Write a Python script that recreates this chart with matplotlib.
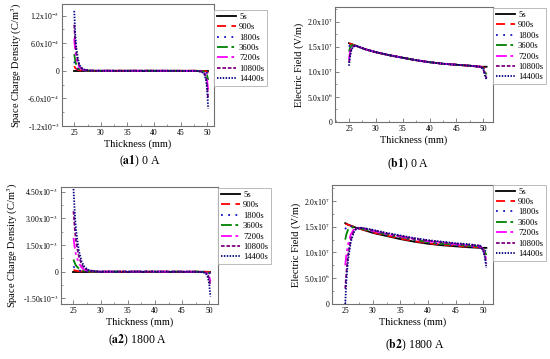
import matplotlib
matplotlib.use("Agg")
import matplotlib.pyplot as plt
from matplotlib.ticker import MultipleLocator, AutoMinorLocator

plt.rcParams['font.family'] = ['Liberation Serif', 'DejaVu Serif']
plt.rcParams['mathtext.fontset'] = 'stix'

# ---------------- data ----------------
times = ["5s", "900s", "1800s", "3600s", "7200s", "10800s", "14400s"]

# (a1) space charge density, 0 A  (unit 1e-3 C/m^3)
x_a1 = [25.0, 25.2, 25.4, 25.7, 26.0, 26.5, 27.0, 28.0, 30.0, 40.0, 48.0, 49.0, 49.5, 49.8, 50.0, 50.2]
a1_5s    = [0.0, 0.0, 0.0, 0.0, 0.0, 0.0, 0.0, 0.0, 0.0, 0.0, 0.0, 0.0, 0.0, 0.0, 0.0, 0.0]
a1_900s  = [0.10, 0.06, 0.04, 0.02, 0.01, 0.004, 0.001, 0.0, 0.0, 0.0, 0.0, -0.002, -0.005, -0.012, -0.025, -0.05]
a1_1800s = [0.20, 0.12, 0.08, 0.04, 0.02, 0.008, 0.003, 0.0, 0.0, 0.0, 0.0, -0.003, -0.01, -0.025, -0.05, -0.10]
a1_3600s = [0.36, 0.21, 0.13, 0.07, 0.035, 0.014, 0.005, 0.001, 0.0, 0.0, -0.001, -0.006, -0.02, -0.05, -0.10, -0.20]
a1_7200s = [0.70, 0.42, 0.27, 0.14, 0.07, 0.03, 0.01, 0.002, 0.0, 0.0, -0.002, -0.012, -0.04, -0.10, -0.20, -0.42]
a1_10800s = [1.00, 0.60, 0.38, 0.20, 0.10, 0.04, 0.015, 0.003, 0.0, 0.0, -0.003, -0.018, -0.06, -0.15, -0.30, -0.62]
a1_14400s = [1.30, 0.78, 0.49, 0.26, 0.12, 0.05, 0.02, 0.004, 0.0, 0.0, -0.004, -0.025, -0.08, -0.20, -0.40, -0.82]

# (a2) space charge density, 1800 A  (unit 1e-3 C/m^3)
x_a2 = [25.0, 25.2, 25.4, 25.7, 26.0, 26.5, 27.0, 27.5, 28.0, 29.0, 30.0, 40.0, 48.0, 49.0, 49.5, 49.8, 50.0, 50.2]
a2_5s    = [0.0] * 18
a2_900s  = [0.10, 0.075, 0.055, 0.04, 0.025, 0.012, 0.006, 0.003, 0.001, 0.0, 0.0, 0.0, 0.0, -0.002, -0.006, -0.015, -0.03, -0.06]
a2_1800s = [0.30, 0.22, 0.16, 0.11, 0.075, 0.036, 0.018, 0.009, 0.004, 0.001, 0.0, 0.0, -0.001, -0.005, -0.015, -0.035, -0.07, -0.13]
a2_3600s = [0.68, 0.51, 0.37, 0.26, 0.17, 0.08, 0.04, 0.02, 0.01, 0.003, 0.0, 0.0, -0.002, -0.01, -0.03, -0.07, -0.13, -0.25]
a2_7200s = [1.90, 1.42, 1.04, 0.72, 0.47, 0.23, 0.11, 0.06, 0.03, 0.008, 0.0, 0.0, -0.004, -0.02, -0.06, -0.15, -0.28, -0.55]
a2_10800s = [3.40, 2.55, 1.87, 1.29, 0.85, 0.41, 0.20, 0.10, 0.05, 0.014, 0.0, 0.0, -0.006, -0.03, -0.09, -0.22, -0.42, -0.80]
a2_14400s = [4.65, 3.49, 2.56, 1.77, 1.16, 0.56, 0.28, 0.14, 0.07, 0.02, 0.0, 0.0, -0.01, -0.05, -0.16, -0.40, -0.75, -1.40]

# (b1)/(b2) electric field (unit 1e7 V/m)
x_b = [25.0, 25.2, 25.5, 26.0, 26.5, 27.0, 28.0, 30.0, 32.5, 35.0, 37.5, 40.0, 42.5, 45.0, 47.5, 49.5, 50.0, 50.3, 50.6]
b1_5s    = [1.57, 1.56, 1.55, 1.53, 1.51, 1.49, 1.45, 1.39, 1.33, 1.28, 1.23, 1.19, 1.16, 1.14, 1.12, 1.10, 1.10, 1.10, 1.10]
b1_900s  = [1.56, 1.56, 1.55, 1.53, 1.51, 1.49, 1.45, 1.39, 1.33, 1.28, 1.23, 1.19, 1.16, 1.14, 1.12, 1.10, 1.09, 1.07, 1.05]
b1_1800s = [1.50, 1.53, 1.54, 1.53, 1.51, 1.49, 1.45, 1.39, 1.33, 1.28, 1.23, 1.19, 1.16, 1.14, 1.12, 1.10, 1.08, 1.03, 0.98]
b1_3600s = [1.40, 1.48, 1.53, 1.53, 1.51, 1.49, 1.45, 1.39, 1.33, 1.28, 1.23, 1.19, 1.16, 1.14, 1.12, 1.10, 1.07, 1.00, 0.95]
b1_7200s = [1.25, 1.40, 1.50, 1.52, 1.51, 1.49, 1.45, 1.39, 1.33, 1.28, 1.23, 1.19, 1.16, 1.14, 1.12, 1.10, 1.06, 0.97, 0.90]
b1_10800s = [1.18, 1.35, 1.48, 1.52, 1.51, 1.49, 1.45, 1.39, 1.33, 1.28, 1.23, 1.19, 1.16, 1.14, 1.12, 1.10, 1.05, 0.95, 0.87]
b1_14400s = [1.12, 1.30, 1.46, 1.51, 1.51, 1.49, 1.45, 1.39, 1.33, 1.28, 1.23, 1.19, 1.16, 1.14, 1.12, 1.10, 1.05, 0.93, 0.84]

b2_5s    = [1.57, 1.56, 1.54, 1.52, 1.50, 1.48, 1.45, 1.38, 1.32, 1.26, 1.21, 1.17, 1.14, 1.12, 1.10, 1.09, 1.09, 1.09, 1.09]
b2_900s  = [1.55, 1.55, 1.54, 1.52, 1.50, 1.48, 1.45, 1.39, 1.33, 1.27, 1.22, 1.18, 1.15, 1.13, 1.11, 1.10, 1.09, 1.08, 1.06]
b2_1800s = [1.45, 1.50, 1.52, 1.51, 1.50, 1.49, 1.46, 1.40, 1.34, 1.29, 1.24, 1.19, 1.16, 1.14, 1.12, 1.10, 1.08, 1.05, 1.00]
b2_3600s = [1.25, 1.35, 1.44, 1.48, 1.49, 1.48, 1.46, 1.41, 1.35, 1.30, 1.25, 1.20, 1.17, 1.15, 1.13, 1.11, 1.07, 1.02, 0.95]
b2_7200s = [0.75, 0.95, 1.15, 1.35, 1.44, 1.47, 1.47, 1.42, 1.36, 1.31, 1.26, 1.22, 1.19, 1.16, 1.14, 1.12, 1.06, 0.98, 0.85]
b2_10800s = [0.30, 0.60, 0.95, 1.25, 1.40, 1.47, 1.48, 1.43, 1.37, 1.32, 1.27, 1.23, 1.20, 1.17, 1.15, 1.13, 1.05, 0.95, 0.78]
b2_14400s = [0.00, 0.45, 0.85, 1.20, 1.38, 1.46, 1.48, 1.44, 1.38, 1.33, 1.28, 1.24, 1.21, 1.18, 1.16, 1.13, 1.04, 0.92, 0.70]

a1_series = [a1_5s, a1_900s, a1_1800s, a1_3600s, a1_7200s, a1_10800s, a1_14400s]
a2_series = [a2_5s, a2_900s, a2_1800s, a2_3600s, a2_7200s, a2_10800s, a2_14400s]
b1_series = [b1_5s, b1_900s, b1_1800s, b1_3600s, b1_7200s, b1_10800s, b1_14400s]
b2_series = [b2_5s, b2_900s, b2_1800s, b2_3600s, b2_7200s, b2_10800s, b2_14400s]

# tick labels
a1_yticks = [-1.2e-3, -6.0e-4, 0.0, 6.0e-4, 1.2e-3]
a1_ylabels = [r"-1.2x10$^{-3}$", r"-6.0x10$^{-4}$", "0", r"6.0x10$^{-4}$", r"1.2x10$^{-3}$"]
a2_yticks = [-1.5e-3, 0.0, 1.5e-3, 3.0e-3, 4.5e-3]
a2_ylabels = [r"-1.50x10$^{-3}$", "0", r"1.50x10$^{-3}$", r"3.00x10$^{-3}$", r"4.50x10$^{-3}$"]
b_yticks = [0.0, 5.0e6, 1.0e7, 1.5e7, 2.0e7]
b_ylabels = ["0", r"5.0x10$^{6}$", r"1.0x10$^{7}$", r"1.5x10$^{7}$", r"2.0x10$^{7}$"]
x_ticks = [25, 30, 35, 40, 45, 50]

# ---------------- style ----------------
colors = ["#000000", "#ff0000", "#1010c8", "#008000", "#ff00ff", "#800080", "#000080"]
styles = ["-", (0, (5, 3)), (0, (1, 3)), (0, (6, 2, 1.5, 2)), (0, (6, 2, 1.5, 2, 1.5, 2)), (0, (2, 1)), (0, (0.8, 0.8))]
frame_col = "#707070"

fig = plt.figure(figsize=(5.5, 3.59), dpi=100)

def px(l, t, r, b):
    W, H = 550.0, 359.0
    return [l / W, 1 - b / H, (r - l) / W, (b - t) / H]

def setup(ax, xs, series, scale, yticks, ylabels, ylim, xlim, ylabel, leg_top):
    for s, c, ls, lab in zip(series, colors, styles, times):
        ax.plot(xs, [v * scale for v in s], color=c, linestyle=ls, lw=1.3, label=lab)
    ax.set_xlim(*xlim)
    ax.set_ylim(*ylim)
    ax.set_xticks(x_ticks)
    ax.set_xticklabels([str(t) for t in x_ticks])
    ax.xaxis.set_minor_locator(MultipleLocator(2.5))
    ax.set_yticks(yticks)
    ax.set_yticklabels(ylabels)
    ax.yaxis.set_minor_locator(AutoMinorLocator(2))
    ax.tick_params(which='both', direction='in', top=False, right=False,
                   labelsize=5.5, color=frame_col, pad=2)
    ax.tick_params(which='major', length=3, width=0.6)
    ax.tick_params(which='minor', length=1.5, width=0.5)
    for sp in ax.spines.values():
        sp.set_color(frame_col)
        sp.set_linewidth(0.8)
    ax.set_xlabel("Thickness (mm)", fontsize=7.5, labelpad=2)
    ax.set_ylabel(ylabel, fontsize=7.5, labelpad=2)
    leg = ax.legend(loc='upper left', bbox_to_anchor=(1.0, leg_top), fontsize=6.2,
                    frameon=True, fancybox=False, framealpha=1, borderaxespad=0,
                    handlelength=2.2, handletextpad=0.4, labelspacing=0.28,
                    borderpad=0.3)
    leg.get_frame().set_edgecolor("#b0b0b0")
    leg.get_frame().set_linewidth(0.6)

ax1 = fig.add_axes(px(62, 4, 214, 126))
setup(ax1, x_a1, a1_series, 1e-3, a1_yticks, a1_ylabels, (-1.2e-3, 1.45e-3), (22.7, 51.3),
      "Space Charge Density (C/m$^{3}$)", 0.95)
ax2 = fig.add_axes(px(335, 7, 493, 122))
setup(ax2, x_b, b1_series, 1e7, b_yticks, b_ylabels, (0, 2.29e7), (22.4, 51.8),
      "Electric Field (V/m)", 0.99)
ax3 = fig.add_axes(px(61, 187, 218, 304))
setup(ax3, x_a2, a2_series, 1e-3, a2_yticks, a2_ylabels, (-1.82e-3, 4.76e-3), (22.7, 51.6),
      "Space Charge Density (C/m$^{3}$)", 0.99)
ax4 = fig.add_axes(px(332, 185, 493, 304))
setup(ax4, x_b, b2_series, 1e7, b_yticks, b_ylabels, (0, 2.31e7), (22.6, 51.8),
      "Electric Field (V/m)", 1.0)

cap_kw = dict(ha='center', va='center', fontsize=8.5)
fig.text(140 / 550, 1 - 161 / 359, r"($\mathbf{a1}$) 0 A", **cap_kw)
fig.text(408 / 550, 1 - 164 / 359, r"($\mathbf{b1}$) 0 A", **cap_kw)
fig.text(138 / 550, 1 - 340 / 359, r"($\mathbf{a2}$) 1800 A", **cap_kw)
fig.text(415 / 550, 1 - 345 / 359, r"($\mathbf{b2}$) 1800 A", **cap_kw)

fig.savefig("out.png", dpi=100, facecolor="white")
